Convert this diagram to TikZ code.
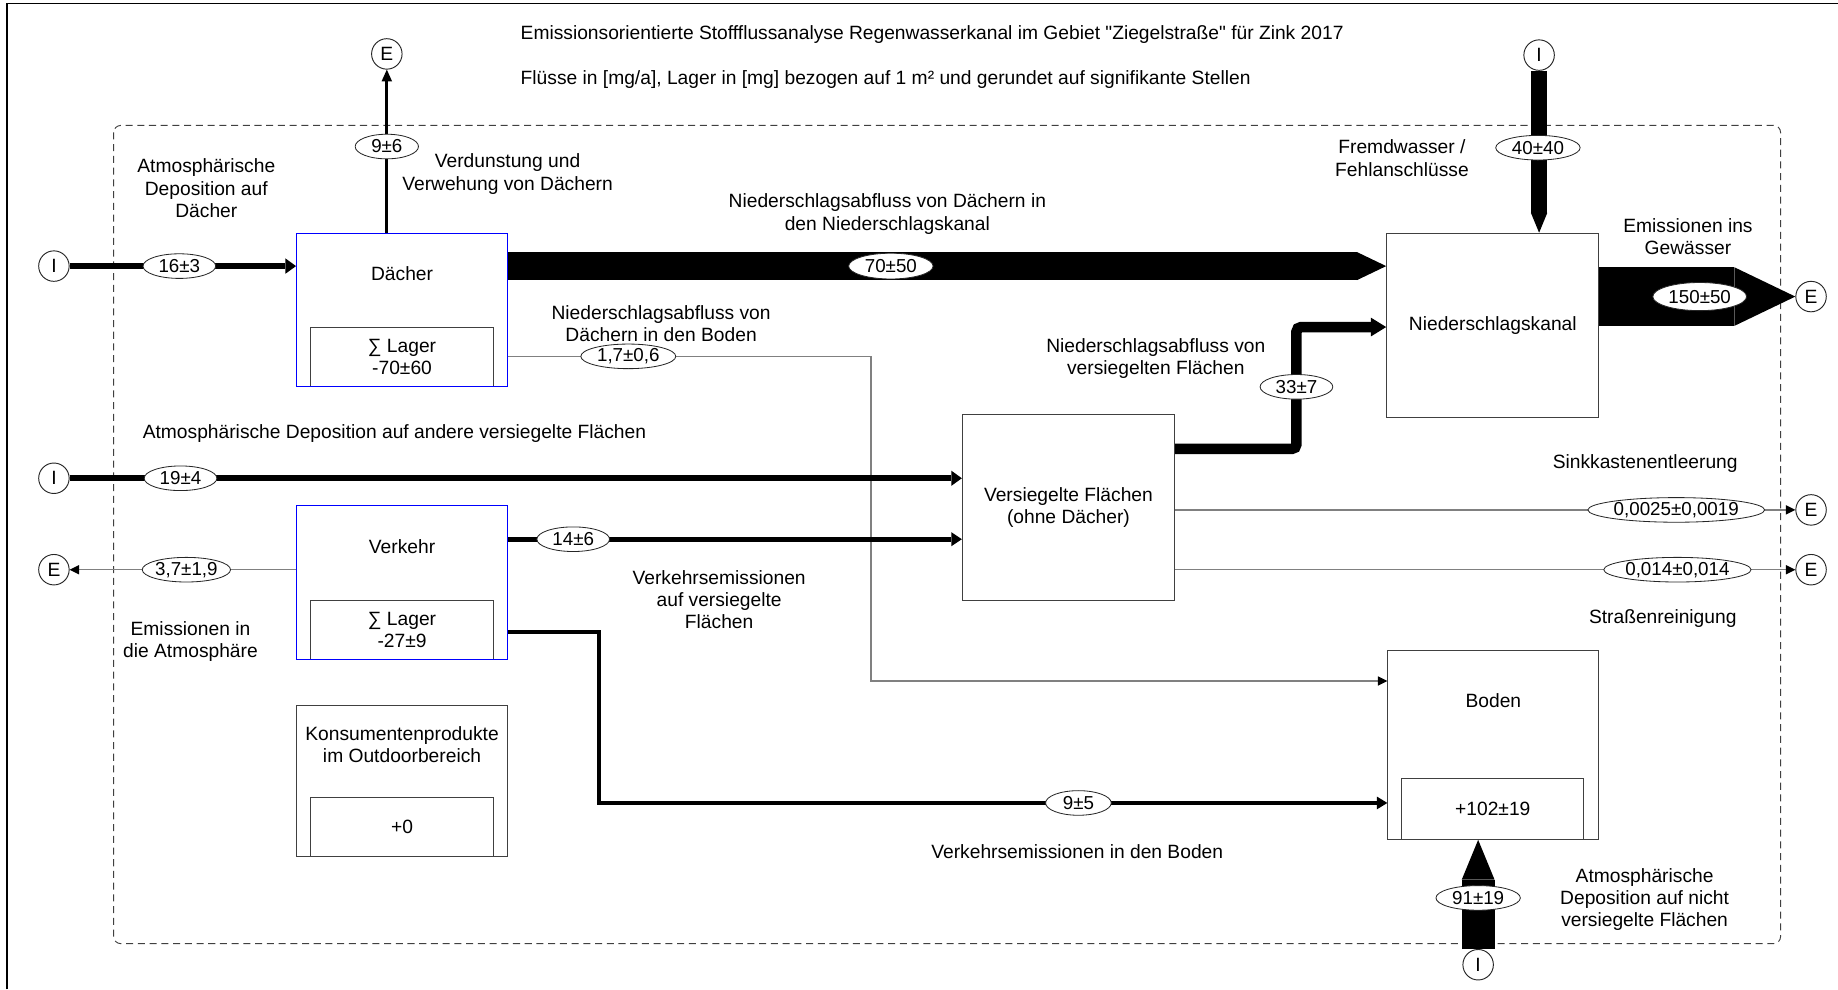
\documentclass[tikz,border=0pt]{standalone}
\usepackage{fontspec}
\setmainfont{Liberation Sans}[Ligatures=TeXOff]
\usetikzlibrary{arrows.meta,shapes.geometric,calc}
\tikzset{
  txt/.style={font=\fontsize{16.4}{19}\selectfont, align=center, inner sep=0pt, text=black, yshift=-1.5pt},
  procbox/.style={draw=black!75, line width=0.9pt, inner sep=0pt, font=\fontsize{16.4}{19}\selectfont, align=center},
  blueproc/.style={procbox, draw=blue},
  stockbox/.style={draw=black!75, line width=0.9pt, inner sep=0pt, minimum width=156pt, minimum height=51pt, font=\fontsize{16.4}{19}\selectfont, align=center},
  term/.style={circle, draw=black!85, line width=0.8pt, minimum size=26pt, inner sep=0pt, fill=white, font=\fontsize{16.4}{19}\selectfont},
  flowlbl/.style={ellipse, draw=black!85, line width=0.7pt, fill=white, inner sep=0pt, minimum height=21pt, font=\fontsize{16}{18}\selectfont},
  fl/.style n args={3}{draw=black, line width=#1, -{Triangle[length=#2, width=#3, line width=0pt]}},
  gfl/.style={draw=black!50, line width=1pt, -{Triangle[length=8pt, width=8pt, line width=0pt, color=black]}}
}
\begin{document}
\begin{tikzpicture}[x=1pt,y=-1pt]
\useasboundingbox (0,0) rectangle (1568,844);
\fill[white] (0,0) rectangle (1568,844);
% frame and system boundary
\draw[line width=1.5pt] (6,844) -- (6,3) -- (1568,3);
\draw[black!75, line width=0.8pt, dash pattern=on 6pt off 4pt, rounded corners=6pt] (97,107) rectangle (1519,805);

% title
\node[txt, anchor=west] (title) at (444,28) {Emissionsorientierte Stoffflussanalyse Regenwasserkanal im Gebiet "Ziegelstraße" für Zink 2017};
\node[txt, anchor=west] (subtitle) at (444,66) {Flüsse in [mg/a], Lager in [mg] bezogen auf 1 m² und gerundet auf signifikante Stellen};

% processes
\node[stockbox] (dachL) at (343,304.5) {∑ Lager\\-70±60};
\node[blueproc, minimum width=180pt, minimum height=131pt] (dach) at (343,264.5) {};
\node[txt] (dachT) at (343,232) {Dächer};

\node[stockbox] (verkL) at (343,537.5) {∑ Lager\\-27±9};
\node[blueproc, minimum width=180pt, minimum height=132pt] (verk) at (343,497) {};
\node[txt] (verkT) at (343,465) {Verkehr};

\node[procbox, minimum width=180pt, minimum height=129pt] (kons) at (343,666.5) {};
\node[stockbox] (konsL) at (343,705.5) {+0};
\node[txt] (konsT) at (343,633.5) {Konsumentenprodukte\\im Outdoorbereich};

\node[procbox, minimum width=181pt, minimum height=158pt] (vf) at (911.5,433) {Versiegelte Flächen\\(ohne Dächer)};
\node[procbox, minimum width=181pt, minimum height=157pt] (nk) at (1273.5,277.5) {Niederschlagskanal};
\node[procbox, minimum width=180pt, minimum height=161pt] (boden) at (1274,635.5) {};
\node[stockbox, minimum width=155pt, minimum height=52pt] (bodenL) at (1273.5,690) {+102±19};
\node[txt] (bodenT) at (1274,596) {Boden};

% terminals
\node[term] (Etop) at (330,46) {E};
\node[term] (Idach) at (46,227) {I};
\node[term] (Ivf) at (46,408) {I};
\node[term] (Eatm) at (46,486) {E};
\node[term] (Ifremd) at (1313,47) {I};
\node[term] (Egew) at (1545,253) {E};
\node[term] (Esink) at (1545,435) {E};
\node[term] (Estr) at (1545,486) {E};
\node[term] (Iboden) at (1261,823) {I};

% helper coordinates
\coordinate (k17a) at (743,304);
\coordinate (k17b) at (743,581);
\coordinate (k146) at (600,460);
\coordinate (k95a) at (511,539);
\coordinate (k95b) at (511,685);
\coordinate (k33a) at (1106,383);
\coordinate (k33b) at (1106,279);

% flows
\draw[fl={5pt}{9pt}{13pt}] (Idach.east) -- (Idach -| dach.west);
\draw[fl={2.5pt}{10pt}{9pt}] (Etop |- dach.north) -- (Etop.south);
\draw[fl={24pt}{25pt}{24pt}] (dach.east |- Idach) -- (nk.west |- Idach);
\draw[gfl] (k17a -| dach.east) -- (k17a) -- (k17b) -- (k17b -| boden.west);
\draw[fl={5pt}{9pt}{13pt}] (Ivf.east) -- (Ivf -| vf.west);
\draw[fl={4pt}{9pt}{12pt}] (k146 -| verk.east) -- (k146 -| vf.west);
\draw[gfl] (verk.west |- Eatm) -- (Eatm.east);
\draw[fl={3pt}{9pt}{11pt}] (k95a -| verk.east) -- (k95a) -- (k95b) -- (k95b -| boden.west);
\draw[fl={9pt}{13pt}{16pt}, rounded corners=4pt] (k33a -| vf.east) -- (k33a) -- (k33b) -- (k33b -| nk.west);
\draw[fl={14pt}{17pt}{14pt}] (Ifremd.south) -- (Ifremd |- nk.north);
\draw[fl={50pt}{52pt}{50pt}] (nk.east |- Egew) -- (Egew.west);
\draw[gfl] (vf.east |- Esink) -- (Esink.west);
\draw[gfl] (vf.east |- Estr) -- (Estr.west);
\draw[fl={28pt}{34pt}{28pt}] (Iboden.north) -- (Iboden |- boden.south);

% flow values
\node[flowlbl, minimum width=62pt] (v1) at (153,227) {16±3};
\node[flowlbl, minimum width=54pt] (v2) at (330,125) {9±6};
\node[flowlbl, minimum width=72pt, minimum height=22pt] (v3) at (760,227) {70±50};
\node[flowlbl, minimum width=81pt] (v4) at (536,304) {1,7±0,6};
\node[flowlbl, minimum width=62pt] (v5) at (154,408) {19±4};
\node[flowlbl, minimum width=62pt] (v6) at (489,460) {14±6};
\node[flowlbl, minimum width=68pt] (v7) at (159,486) {3,7±1,9};
\node[flowlbl, minimum width=56pt] (v8) at (920,685) {9±5};
\node[flowlbl, minimum width=62pt] (v9) at (1106,330) {33±7};
\node[flowlbl, minimum width=72pt] (v10) at (1312,126) {40±40};
\node[flowlbl, minimum width=80pt, minimum height=24pt] (v11) at (1450,253) {150±50};
\node[flowlbl, minimum width=140pt] (v12) at (1430,435) {0,0025±0,0019};
\node[flowlbl, minimum width=118pt] (v13) at (1431,486) {0,014±0,014};
\node[flowlbl, minimum width=72pt] (v14) at (1261,766) {91±19};

% flow descriptions
\node[txt] (t1) at (176,159) {Atmosphärische\\Deposition auf\\Dächer};
\node[txt] (t2) at (433,147) {Verdunstung und\\Verwehung von Dächern};
\node[txt] (t3) at (757,181) {Niederschlagsabfluss von Dächern in\\den Niederschlagskanal};
\node[txt] (t4) at (564,274.5) {Niederschlagsabfluss von\\Dächern in den Boden};
\node[txt] (t5) at (1196,133.5) {Fremdwasser /\\Fehlanschlüsse};
\node[txt] (t6) at (1440,200.5) {Emissionen ins\\Gewässer};
\node[txt] (t7) at (986,304.5) {Niederschlagsabfluss von\\versiegelten Flächen};
\node[txt] (t8) at (336.5,368) {Atmosphärische Deposition auf andere versiegelte Flächen};
\node[txt] (t9) at (1403.5,394) {Sinkkastenentleerung};
\node[txt] (t10) at (1418.5,526) {Straßenreinigung};
\node[txt] (t11) at (613.5,510) {Verkehrsemissionen\\auf versiegelte\\Flächen};
\node[txt] (t12) at (162.5,545.5) {Emissionen in\\die Atmosphäre};
\node[txt] (t13) at (919,725) {Verkehrsemissionen in den Boden};
\node[txt] (t14) at (1403,766) {Atmosphärische\\Deposition auf nicht\\versiegelte Flächen};
\end{tikzpicture}
\end{document}
